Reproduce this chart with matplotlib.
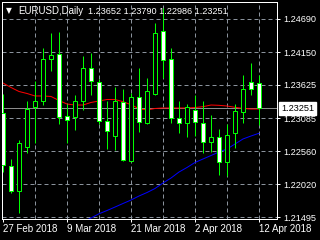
import matplotlib
matplotlib.use("Agg")
import matplotlib.pyplot as plt
import matplotlib.transforms as mtransforms
import numpy as np

# EURUSD daily, 27 Feb 2018 .. 12 Apr 2018
dates = ["27 Feb", "28 Feb", "1 Mar", "2 Mar", "5 Mar", "6 Mar", "7 Mar", "8 Mar",
         "9 Mar", "12 Mar", "13 Mar", "14 Mar", "15 Mar", "16 Mar", "19 Mar", "20 Mar",
         "21 Mar", "22 Mar", "23 Mar", "26 Mar", "27 Mar", "28 Mar", "29 Mar", "30 Mar",
         "2 Apr", "3 Apr", "4 Apr", "5 Apr", "6 Apr", "9 Apr", "10 Apr", "11 Apr", "12 Apr"]
opens = [1.23173, 1.22318, 1.21919, 1.22620, 1.23275, 1.23362, 1.24040, 1.24125,
         1.23125, 1.23104, 1.23367, 1.23895, 1.23673, 1.23049, 1.22807, 1.23356,
         1.22404, 1.23427, 1.23017, 1.23475, 1.24491, 1.24040, 1.23098, 1.23007,
         1.23222, 1.23017, 1.22700, 1.22781, 1.22387, 1.22846, 1.23195, 1.23673, 1.23652]
highs = [1.23480, 1.22431, 1.22738, 1.23372, 1.23690, 1.24217, 1.24469, 1.24480,
         1.23314, 1.23459, 1.24093, 1.24137, 1.23722, 1.23372, 1.23588, 1.23556,
         1.23501, 1.23895, 1.23733, 1.24621, 1.24860, 1.24217, 1.23367, 1.23318,
         1.23464, 1.23367, 1.23141, 1.22910, 1.22996, 1.23318, 1.23786, 1.23985, 1.23790]
lows = [1.22221, 1.21882, 1.21560, 1.22523, 1.22694, 1.23297, 1.23856, 1.22991,
        1.22694, 1.22899, 1.23222, 1.23464, 1.22996, 1.22592, 1.22576, 1.22394,
        1.22390, 1.22872, 1.22996, 1.23464, 1.23733, 1.23007, 1.22846, 1.22781,
        1.22802, 1.22533, 1.22549, 1.22173, 1.22157, 1.22604, 1.23017, 1.23464, 1.22986]
closes = [1.22334, 1.21919, 1.22684, 1.23233, 1.23362, 1.24040, 1.24104, 1.23114,
          1.23055, 1.23367, 1.23895, 1.23685, 1.23049, 1.22888, 1.23367, 1.22415,
          1.23427, 1.23023, 1.23533, 1.24459, 1.24024, 1.23088, 1.23007, 1.23265,
          1.23023, 1.22700, 1.22781, 1.22387, 1.22818, 1.23206, 1.23556, 1.23556, 1.23251]
ma_red = [1.23657, 1.23585, 1.23520, 1.23488, 1.23448, 1.23448, 1.23440, 1.23375,
          1.23318, 1.23302, 1.23302, 1.23343, 1.23367, 1.23391, 1.23391, 1.23356,
          1.23307, 1.23243, 1.23222, 1.23246, 1.23254, 1.23254, 1.23254, 1.23254,
          1.23262, 1.23275, 1.23302, 1.23297, 1.23286, 1.23265, 1.23246, 1.23238, 1.23238]
ma_blue = [np.nan] * 10 + [1.21414, 1.21479, 1.21547, 1.21600, 1.21656, 1.21713,
                           1.21769, 1.21834, 1.21890, 1.21955, 1.22044, 1.22124,
                           1.22221, 1.22294, 1.22375, 1.22431, 1.22487, 1.22544,
                           1.22592, 1.22673, 1.22754, 1.22802, 1.22846]
price_ticks = [1.24690, 1.24150, 1.23625, 1.23085, 1.22560, 1.22020, 1.21495]
date_ticks = [0, 8, 16, 24, 32]
date_labels = ["27 Feb 2018", "9 Mar 2018", "21 Mar 2018", "2 Apr 2018", "12 Apr 2018"]

px = 0.72  # one pixel in points at dpi 100
lime = "#00ff00"
gridc = "#8a929c"

plt.rcParams["font.family"] = ["Liberation Sans", "DejaVu Sans"]
fig = plt.figure(figsize=(3.2, 2.4), dpi=100, facecolor="black")
ax = fig.add_axes([2 / 320, 21 / 240, 275 / 320, 217 / 240], facecolor="black")

x = np.arange(len(dates))
o = np.array(opens); c = np.array(closes)
h = np.array(highs); l = np.array(lows)

# grid
for gx in range(4, 33, 4):
    ax.axvline(gx, color=gridc, lw=px, ls=(0, (4, 3)), zorder=0)
for gy in price_ticks:
    ax.axhline(gy, color=gridc, lw=px, ls=(0, (4, 3)), zorder=0)

ax.axhline(closes[-1], color="#8c8c8c", lw=px, zorder=1)
ax.plot(x, ma_red, color="red", lw=px, zorder=2)
ax.plot(x, ma_blue, color="blue", lw=px, zorder=2)

ax.vlines(x, l, h, color=lime, lw=px, zorder=3)
fills = ["black" if cc >= oo else "white" for oo, cc in zip(o, c)]
ax.bar(x, c - o, bottom=o, width=0.5, color=fills, edgecolor=lime, linewidth=px, zorder=4)

ax.set_xlim(-0.125, 34.25)
ax.set_ylim(1.21463, 1.24964)
for s in ax.spines.values():
    s.set_color("white")
    s.set_linewidth(px)

ax.yaxis.tick_right()
ax.set_yticks(price_ticks)
ax.set_yticklabels([f"{p:.5f}" for p in price_ticks])
ax.tick_params(axis="y", colors="white", length=3 * px, width=px, pad=3 * px, labelsize=6.6)
ax.set_xticks(date_ticks)
ax.set_xticklabels(date_labels, ha="left")
ax.tick_params(axis="x", colors="white", length=3 * px, width=px, pad=2 * px, labelsize=7)

# current price box
tr = mtransforms.blended_transform_factory(ax.transAxes, ax.transData)
ax.text(1 + 4 / 275, closes[-1], f"{closes[-1]:.5f}", transform=tr, color="black",
        fontsize=6.6, va="center", ha="left", clip_on=False,
        bbox=dict(boxstyle="square,pad=0.2", fc="white", ec="white"))

fig.text(6 / 320, 1 - 11 / 240, "\u25bc", color="white", fontsize=5.5,
         va="center", ha="left", family="DejaVu Sans")
fig.text(18 / 320, 1 - 11 / 240, "EURUSD,Daily", color="white", fontsize=7,
         va="center", ha="left")
fig.text(88 / 320, 1 - 11 / 240,
         f"{opens[-1]:.5f} {highs[-1]:.5f} {lows[-1]:.5f} {closes[-1]:.5f}",
         color="white", fontsize=6.6, va="center", ha="left")

fig.savefig("out.png", dpi=100, facecolor="black")
